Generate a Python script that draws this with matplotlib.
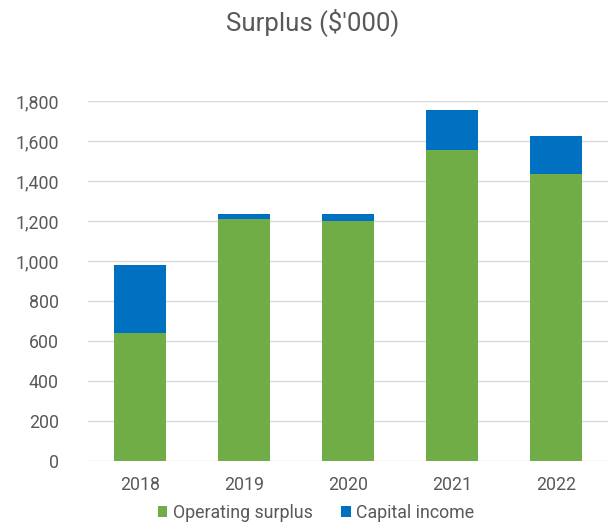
import numpy as np
import matplotlib
matplotlib.use("Agg")
import matplotlib.pyplot as plt
from matplotlib.ticker import FuncFormatter

years = ["2018", "2019", "2020", "2021", "2022"]
operating = [640, 1212, 1200, 1553, 1437]
capital = [342, 21, 37, 202, 188]
yticks = [0, 200, 400, 600, 800, 1000, 1200, 1400, 1600, 1800]

green = "#70ad47"
blue = "#0070c0"
txt = "#595959"

plt.rcParams['font.family'] = ['Roboto', 'DejaVu Sans']

fig = plt.figure(figsize=(6.14, 5.32), dpi=100)
ax = fig.add_axes([88/614, 1-461/532, 520/614, 360/532])

x = np.arange(len(years))
ax.bar(x, operating, width=0.5, color=green, label="Operating surplus", zorder=3)
ax.bar(x, capital, width=0.5, bottom=operating, color=blue, label="Capital income", zorder=3)

ax.set_xlim(-0.5, len(years)-0.5)
ax.set_ylim(0, 1800)
ax.set_yticks(yticks)
ax.yaxis.set_major_formatter(FuncFormatter(lambda v, p: f"{int(v):,}"))
ax.set_xticks(x)
ax.set_xticklabels(years)
ax.grid(axis="y", color="#d9d9d9", linewidth=1, zorder=0)
for s in ax.spines.values():
    s.set_visible(False)
ax.tick_params(axis="both", length=0, labelsize=12.8, labelcolor=txt)
ax.tick_params(axis="y", pad=21)
ax.tick_params(axis="x", pad=11)

fig.text(313/614, 1-22/532, "Surplus ($'000)", ha="center", va="center", fontsize=18.5, color=txt)

fig.legend(loc="center", bbox_to_anchor=(316/614, 1-513/532), ncol=2, frameon=False,
           fontsize=12.8, labelcolor=txt, handlelength=0.55, handleheight=0.55,
           handletextpad=0.3, columnspacing=1.6)

fig.savefig("out.png", dpi=100)
